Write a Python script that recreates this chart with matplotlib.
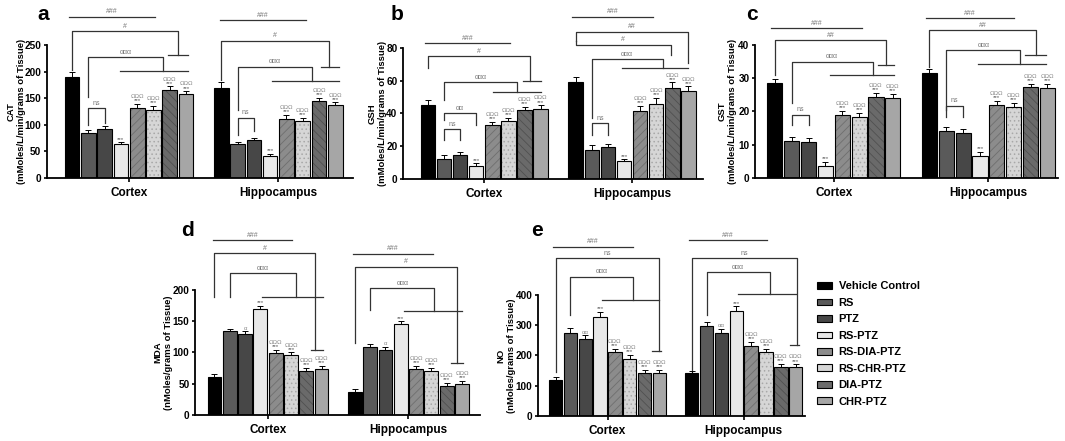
import numpy as np
import matplotlib
matplotlib.use("Agg")
import matplotlib.pyplot as plt
from matplotlib.patches import Patch

plt.rcParams['font.family'] = ['Liberation Sans', 'DejaVu Sans']
plt.rcParams['font.weight'] = 'bold'
plt.rcParams['hatch.linewidth'] = 0.6

# groups / treatments
regions = ['Cortex', 'Hippocampus']
treatments = ['Vehicle Control', 'RS', 'PTZ', 'RS-PTZ', 'RS-DIA-PTZ',
              'RS-CHR-PTZ', 'DIA-PTZ', 'CHR-PTZ']

# values (cortex, hippocampus)
cat_mean = [[190, 85, 92, 63, 131, 128, 165, 157],
            [170, 64, 71, 42, 111, 107, 144, 137]]
cat_err = [[10, 5, 5, 4, 8, 7, 7, 6],
           [10, 4, 5, 4, 7, 6, 6, 5]]
gsh_mean = [[45, 12.5, 14.5, 8, 33, 35.5, 42, 43],
            [59.5, 18, 19.5, 11, 41.5, 46, 55.5, 54]]
gsh_err = [[3.5, 2, 2, 1.5, 2, 2, 2, 2],
           [2.5, 2.5, 2, 1, 3, 3.5, 3.5, 2.5]]
gst_mean = [[28.5, 11, 10.7, 3.5, 19, 18.3, 24.5, 24],
            [31.5, 14, 13.5, 6.5, 22, 21.3, 27.3, 27]]
gst_err = [[1.3, 1.2, 1.2, 1.3, 1.1, 1.3, 1.0, 1.3],
           [1.2, 1.2, 1.3, 1.3, 1.2, 1.2, 1.0, 1.2]]
mda_mean = [[61, 134, 129, 170, 99, 96, 71, 74],
            [36, 109, 104, 146, 74, 71, 46, 50]]
mda_err = [[5, 4, 5, 5, 5, 4, 4, 5],
           [5, 5, 5, 4, 4, 4, 5, 4]]
no_mean = [[120, 275, 255, 328, 213, 190, 143, 142],
           [142, 296, 274, 347, 232, 210, 163, 161]]
no_err = [[10, 15, 12, 15, 10, 12, 10, 10],
          [8, 15, 15, 15, 12, 12, 10, 10]]

# marks above bars: index -> list of symbols (bottom to top)
marks_main = {3: ['***'], 4: ['***', 'ΩΩΩ'], 5: ['***', 'ΩΩΩ'],
              6: ['***', 'ΩΩΩ'], 7: ['***', 'ΩΩΩ']}

colors = ['#000000', '#5a5a5a', '#474747', '#e8e8e8', '#8c8c8c',
          '#d6d6d6', '#6a6a6a', '#a6a6a6']
hatch_col = [None, None, None, None, '#6e6e6e', '#a8a8a8', '#505050', None]
hatches = [None, None, None, None, '////', '....', '\\\\\\\\', None]

SLOT = 0.109
WIDTH = 0.098
LC = '#333333'


def bx(g, i):
    return g + (i - 3.5) * SLOT


def hline(ax, g, i0, i1, y, label):
    ax.plot([bx(g, i0), bx(g, i1)], [y, y], color=LC, lw=0.9, clip_on=False)
    ax.annotate(label, ((bx(g, i0) + bx(g, i1)) / 2, y), xytext=(0, 1),
                textcoords='offset points', ha='center', va='bottom',
                fontsize=5, color='#777777', weight='normal', annotation_clip=False)


def bracket(ax, g, i0, y0, ytop, ir, yr, label, tee=None):
    xs = [bx(g, i0), bx(g, i0), bx(g, ir), bx(g, ir)]
    ys = [y0, ytop, ytop, yr]
    ax.plot(xs, ys, color=LC, lw=0.9, clip_on=False)
    if tee is not None:
        ax.plot([bx(g, tee[0]), bx(g, tee[1])], [yr, yr], color=LC, lw=0.9, clip_on=False)
    ax.annotate(label, ((xs[0] + xs[2]) / 2, ytop), xytext=(0, 1),
                textcoords='offset points', ha='center', va='bottom',
                fontsize=5, color='#777777', weight='normal', annotation_clip=False)


def draw_bars(ax, means, errs, ymax, step, ylabel, xlim, label_off, extra_marks=None):
    for g in range(2):
        for i in range(8):
            x = bx(g, i)
            if hatches[i]:
                ax.bar(x, means[g][i], WIDTH, color=colors[i], edgecolor=hatch_col[i],
                       linewidth=0, hatch=hatches[i], zorder=2)
                ax.bar(x, means[g][i], WIDTH, fill=False, edgecolor='black',
                       linewidth=0.8, zorder=2)
            else:
                ax.bar(x, means[g][i], WIDTH, color=colors[i], edgecolor='black',
                       linewidth=0.8, zorder=2)
            ax.errorbar(x, means[g][i], yerr=[[0], [errs[g][i]]], color='black',
                        capsize=2, elinewidth=0.7, capthick=0.7, zorder=3)
            syms = list(marks_main.get(i, []))
            if extra_marks and i in extra_marks:
                syms = extra_marks[i]
            top = means[g][i] + errs[g][i]
            off = 0.5
            for s in syms:
                fs = 4.5 if s == '***' else 4.3
                ax.annotate(s, (x, top), xytext=(0, off), textcoords='offset points',
                            ha='center', va='bottom', fontsize=fs,
                            color='#555555' if s == '***' else '#888888',
                            weight='normal', annotation_clip=False)
                off += 3.0 if s == '***' else 5
    ax.set_xlim(*xlim)
    ax.set_ylim(0, ymax)
    ax.set_yticks(np.arange(0, ymax + step / 2, step))
    ax.set_xticks([0, 1])
    ax.set_xticklabels(regions, fontsize=8.5, weight='bold')
    ax.tick_params(axis='y', labelsize=7.2, width=1.2, length=2.5, pad=1.5)
    ax.tick_params(axis='x', width=1.2, length=3)
    for lab in ax.get_yticklabels():
        lab.set_fontweight('bold')
    ax.spines['top'].set_visible(False)
    ax.spines['right'].set_visible(False)
    ax.spines['left'].set_linewidth(1.3)
    ax.spines['bottom'].set_linewidth(1.3)
    ax.set_ylabel(ylabel, fontsize=6.8, weight='bold', linespacing=1.2)
    w_px = ax.get_position().width * 1065
    ax.yaxis.set_label_coords(-label_off / w_px, 0.5)


fig = plt.figure(figsize=(10.65, 4.41), dpi=100)

ax_a = fig.add_axes([0.0441, 0.5964, 0.2873, 0.3016])
ax_b = fig.add_axes([0.3784, 0.5941, 0.2817, 0.2971])
ax_c = fig.add_axes([0.7089, 0.5964, 0.2845, 0.3016])
ax_d = fig.add_axes([0.1831, 0.0590, 0.2676, 0.2834])
ax_e = fig.add_axes([0.5052, 0.0567, 0.2507, 0.2744])

draw_bars(ax_a, cat_mean, cat_err, 250, 50,
          'CAT\n(mMoles/L/min/grams of Tissue)', (-0.55, 1.5), 21)
draw_bars(ax_b, gsh_mean, gsh_err, 80, 20,
          'GSH\n(mMoles/L/min/grams of Tissue)', (-0.55, 1.48), 16)
draw_bars(ax_c, gst_mean, gst_err, 40, 10,
          'GST\n(mMoles/L/min/grams of Tissue)', (-0.51, 1.45), 18)
draw_bars(ax_d, mda_mean, mda_err, 200, 50,
          'MDA\n(nMoles/grams of Tissue)', (-0.52, 1.51), 22, extra_marks={2: ['α']})
draw_bars(ax_e, no_mean, no_err, 400, 100,
          'NO\n(nMoles/grams of Tissue)', (-0.51, 1.45), 22, extra_marks={2: ['αα']})

# a - CAT
hline(ax_a, 0, -0.2, 5.1, 303, '###')
bracket(ax_a, 0, 0, 203, 276, 6.5, 231, '#', (5.9, 7.1))
bracket(ax_a, 0, 1, 152, 227, 5.6, 201, 'ααα', (2.95, 7.1))
bracket(ax_a, 0, 1, 100, 131, 2, 103, 'ns')
hline(ax_a, 1, -0.1, 5.2, 297, '###')
bracket(ax_a, 1, 0, 184, 258, 6.6, 209, '#', (6.1, 7.2))
bracket(ax_a, 1, 1, 128, 209, 5.6, 182, 'ααα', (3.1, 7.2))
bracket(ax_a, 1, 1, 80, 113, 2, 88, 'ns')

# b - GSH
hline(ax_b, 0, -0.2, 5.1, 83, '###')
bracket(ax_b, 0, 0, 68, 75, 6.35, 60, '#', (5.9, 7.0))
bracket(ax_b, 0, 1, 48, 59, 5.55, 53, 'ααα', (4.05, 7.0))
bracket(ax_b, 0, 1, 36, 40.3, 3, 33, 'αα')
bracket(ax_b, 0, 1, 24, 30.5, 2, 24, 'ns')
hline(ax_b, 1, -0.2, 4.8, 99, '###')
bracket(ax_b, 1, 0, 84, 90, 7.0, 71, '##')
bracket(ax_b, 1, 0, 84, 82, 5.9, 76, '#')
bracket(ax_b, 1, 1, 37, 73, 5.4, 68, 'ααα', (2.9, 7.0))
bracket(ax_b, 1, 1, 27, 34, 2, 27, 'ns')

# c - GST
hline(ax_c, 0, -0.2, 5.2, 45, '###')
bracket(ax_c, 0, 0, 31, 41.5, 6.6, 34, '##', (6.1, 7.1))
bracket(ax_c, 0, 1, 22.5, 35, 5.8, 31, 'ααα', (3.3, 7.1))
bracket(ax_c, 0, 1, 16, 19, 2, 16, 'ns')
hline(ax_c, 1, -0.2, 5.0, 48, '###')
bracket(ax_c, 1, 0, 33.5, 44.5, 6.3, 37, '##', (5.7, 6.9))
bracket(ax_c, 1, 1, 20.5, 38.5, 5.4, 34.3, 'ααα', (2.9, 6.9))
bracket(ax_c, 1, 1, 18.3, 21.7, 2, 18.3, 'ns')

# d - MDA
hline(ax_d, 0, -0.1, 5.1, 280, '###')
bracket(ax_d, 0, 0, 189, 259, 6.6, 104, '#', (6.3, 7.1))
bracket(ax_d, 0, 1, 189, 227, 5.3, 189, 'ααα', (3.1, 7.1))
hline(ax_d, 1, -0.1, 5.1, 258, '###')
bracket(ax_d, 1, 0, 115, 237, 6.7, 83, '#', (6.3, 7.1))
bracket(ax_d, 1, 1, 168, 203, 5.2, 166, 'ααα', (3.2, 7.0))

# e - NO
hline(ax_e, 0, -0.2, 5.2, 559, '###')
bracket(ax_e, 0, 0, 146, 522, 7.0, 215, 'ns', (6.5, 7.1))
bracket(ax_e, 0, 1, 334, 460, 5.2, 383, 'ααα', (3.1, 7.0))
hline(ax_e, 1, -0.2, 5.1, 582, '###')
bracket(ax_e, 1, 0, 146, 522, 7.1, 235, 'ns', (6.6, 7.2))
bracket(ax_e, 1, 1, 334, 476, 5.25, 403, 'ααα', (3.1, 7.0))

# panel letters
for lab, x, y in [('a', 43, 15), ('b', 397, 15), ('c', 752, 15),
                  ('d', 188, 230), ('e', 537, 230)]:
    fig.text(x / 1065, 1 - y / 441, lab, fontsize=15, weight='bold',
             ha='center', va='center')

handles = [Patch(facecolor=colors[i], edgecolor='black', linewidth=0.8)
           for i in range(8)]
fig.legend(handles, treatments, loc='upper left',
           bbox_to_anchor=(813 / 1065, 1 - 277 / 441), frameon=False,
           labelspacing=0.58, handlelength=1.3, handleheight=0.55,
           handletextpad=0.6, borderaxespad=0, prop={'weight': 'bold', 'size': 8})

fig.savefig('out.png', dpi=100)
